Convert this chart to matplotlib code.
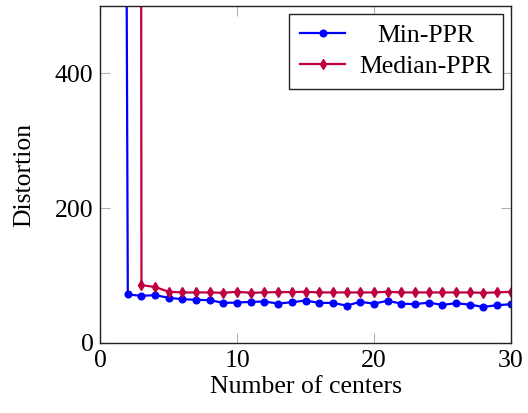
import matplotlib
matplotlib.use('Agg')
import matplotlib.pyplot as plt

# ── data ─────────────────────────────────────────────────────
min_x = list(range(1, 31))
min_ppr = [5400, 72, 70, 71, 67, 65, 64, 63.5, 59.5, 60, 61, 61.5, 58.5, 60.5,
           63, 59.5, 59.5, 55.5, 61, 58.5, 62.5, 58.5, 57.5, 60, 56.5, 59,
           57, 53.5, 56, 57.5]

med_x = list(range(2, 31))
median_ppr = [20000, 86, 83, 76, 75, 75, 75, 74.5, 76, 74.5, 75, 75.5, 75.5,
              76, 75, 75, 75, 75, 75, 76, 75, 75, 75, 75, 75, 75, 74.5, 75, 76]

x_ticks = [0, 10, 20, 30]
y_ticks = [0, 200, 400]

BLUE = '#0000ff'
PURPLE = '#bf0040'
FS = 18.5

plt.rcParams['font.family'] = ['Liberation Serif', 'DejaVu Serif']

fig = plt.figure(figsize=(5.28, 4.13), dpi=100)
ax = fig.add_axes([0.1903, 0.1695, 0.9669 - 0.1903, 0.9855 - 0.1695])

ax.plot(min_x, min_ppr, color=BLUE, lw=1.6, marker='o', ms=4.8,
        label='Min-PPR')
ax.plot(med_x, median_ppr, color=PURPLE, lw=1.6, marker='d', ms=5,
        label='Median-PPR')

ax.set_xlim(0, 30)
ax.set_ylim(0, 500)
ax.set_xticks(x_ticks)
ax.set_yticks(y_ticks)
ax.tick_params(direction='in', length=7, width=0.8, color='#b0b0b0',
               top=True, right=True, labelsize=FS, pad=5)
for s in ax.spines.values():
    s.set_linewidth(1.0)
    s.set_color('#222222')

ax.set_xlabel('Number of centers', fontsize=FS, labelpad=3)
ax.set_ylabel('Distortion', fontsize=FS, labelpad=14)

leg = ax.legend(loc='upper right', fontsize=FS, frameon=True, fancybox=False,
                edgecolor='#222222', framealpha=1, numpoints=1,
                handlelength=1.75, handletextpad=0.55, labelspacing=0.3,
                borderpad=0.42, borderaxespad=0.3)
leg.get_frame().set_linewidth(1.0)

# centre the legend labels like pgfplots does
fig.canvas.draw()
widths = [t.get_window_extent().width for t in leg.get_texts()]
wmax = max(widths)
for t, w in zip(leg.get_texts(), widths):
    t.set_position(((wmax - w) / 2, 0))

fig.savefig('out.png', dpi=100)
